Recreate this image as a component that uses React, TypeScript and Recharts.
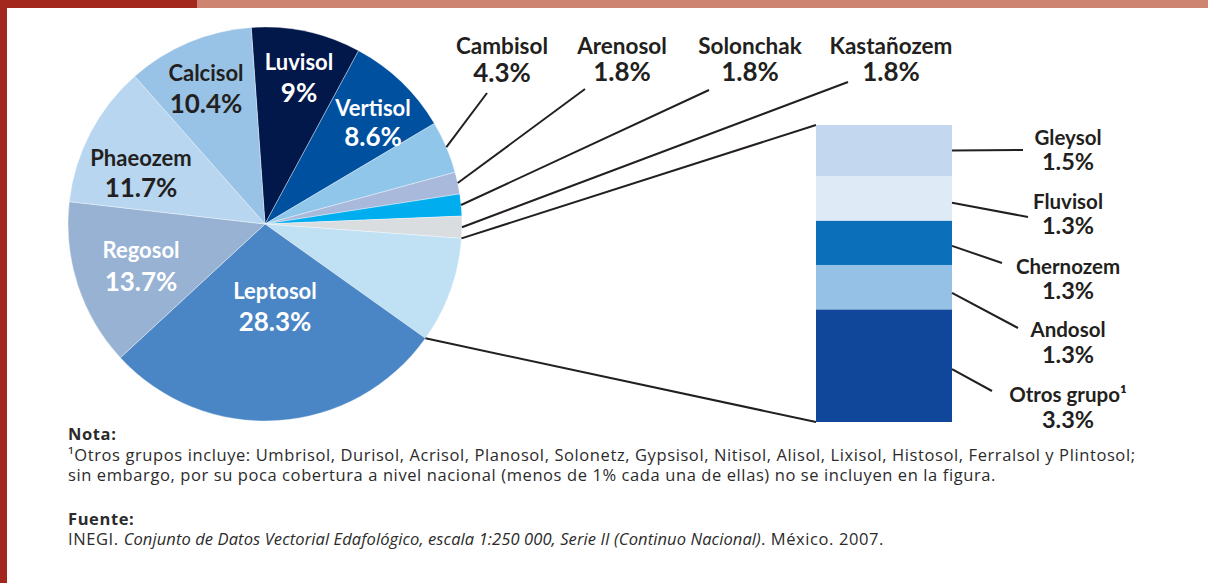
import { Bar, BarChart, Cell, Pie, PieChart, XAxis, YAxis } from 'recharts';

// bar-of-pie detail (bottom to top of the stack)
const barNames = ['Otros grupo¹', 'Andosol', 'Chernozem', 'Fluvisol', 'Gleysol'];
const barValues = [3.3, 1.3, 1.3, 1.3, 1.5];
const barColors = ['#10479b', '#96c1e6', '#0b70b9', '#deebf6', '#c3d7ee'];

const otrosTotal = Math.round(barValues.reduce((a, b) => a + b, 0) * 10) / 10;

// pie slices, clockwise from the top
const pieNames = ['Luvisol', 'Vertisol', 'Cambisol', 'Arenosol', 'Solonchak', 'Kastañozem', 'Otros', 'Leptosol', 'Regosol', 'Phaeozem', 'Calcisol'];
const pieValues = [9, 8.6, 4.3, 1.8, 1.8, 1.8, otrosTotal, 28.3, 13.7, 11.7, 10.4];
const pieColors = ['#02184a', '#0050a0', '#8fc6ea', '#a9b9dc', '#00adef', '#d9dde0', '#c0e0f4', '#4a86c5', '#98b2d3', '#b8d6f0', '#98c3e6'];

const pieData = pieNames.map((name, i) => ({ name, value: pieValues[i] }));
const barRow: Record<string, number | string> = { name: 'otros' };
barNames.forEach((n, i) => (barRow[n] = barValues[i]));
const barData = [barRow];

const W = 1208;
const H = 583;
const PIE_CX = 265;
const PIE_CY = 224;
const PIE_R = 197;
const BAR_LEFT = 816;
const BAR_RIGHT = 952;
const BAR_TOP = 125;
const BAR_BOTTOM = 422;

const INK = '#231f20';
const FONT = 'Lato, "Open Sans", sans-serif';
const NOTE_FONT = '"Open Sans", Lato, sans-serif';
const RAD = Math.PI / 180;
const NAME_SIZE = 22.5;
const PCT_SIZE = 26;

// label layout: x, name y, percent y, colour
const insideLabels: Record<string, [number, number, number, string]> = {
  Luvisol: [299, 61, 92, '#fff'],
  Vertisol: [373, 107, 136, '#fff'],
  Calcisol: [206, 72, 103, INK],
  Phaeozem: [141, 157, 187, INK],
  Regosol: [141, 249, 281, '#fff'],
  Leptosol: [275, 290, 321, '#fff'],
};
// x, name y, percent y, line end x, line end y
const outsideLabels: Record<string, [number, number, number, number, number]> = {
  Cambisol: [502, 45, 72, 487, 93],
  Arenosol: [622, 45, 71, 585, 89],
  Solonchak: [750, 45, 71, 709, 90],
  Kastañozem: [891, 45, 71, 848, 82],
};
// line start fraction down the segment, line end x, y, text x, name y, percent y
const rightLabels: Record<string, [number, number, number, number, number, number]> = {
  Gleysol: [0.5, 1023, 150, 1068, 137, 161],
  Fluvisol: [0.6, 1028, 217, 1068, 201, 225],
  Chernozem: [0.57, 1002, 263, 1068, 266, 290],
  Andosol: [0.63, 1018, 328, 1068, 329, 354],
  'Otros grupo¹': [0.53, 992, 391, 1068, 394, 419],
};

function polar(cx: number, cy: number, r: number, deg: number) {
  return { x: cx + Math.cos(-deg * RAD) * r, y: cy + Math.sin(-deg * RAD) * r };
}

function renderPieLabel(props: any) {
  const { cx, cy, outerRadius, midAngle, startAngle, endAngle, index } = props;
  const name = pieNames[index];
  const pct = `${pieValues[index]}%`;
  if (insideLabels[name]) {
    const [x, ny, py, col] = insideLabels[name];
    return (
      <g fontFamily={FONT} fontWeight={700} fill={col} textAnchor="middle">
        <text x={x} y={ny} dominantBaseline="central" fontSize={NAME_SIZE - 0.5} fill={col}>{name}</text>
        <text x={x} y={py} dominantBaseline="central" fontSize={PCT_SIZE} fill={col}>{pct}</text>
      </g>
    );
  }
  if (outsideLabels[name]) {
    const [x, ny, py, lx, ly] = outsideLabels[name];
    const p = polar(cx, cy, outerRadius, midAngle);
    return (
      <g fontFamily={FONT} fontWeight={700} textAnchor="middle">
        <line x1={p.x} y1={p.y} x2={lx} y2={ly} stroke={INK} strokeWidth={2} />
        <text x={x} y={ny} dominantBaseline="central" fontSize={NAME_SIZE} fill={INK}>{name}</text>
        <text x={x} y={py} dominantBaseline="central" fontSize={PCT_SIZE} fill={INK}>{pct}</text>
      </g>
    );
  }
  // the grouped slice: connectors to the detail bar
  const a = polar(cx, cy, outerRadius, startAngle);
  const b = polar(cx, cy, outerRadius, endAngle);
  return (
    <g>
      <line x1={a.x} y1={a.y} x2={BAR_LEFT} y2={BAR_TOP} stroke={INK} strokeWidth={2} />
      <line x1={b.x} y1={b.y} x2={BAR_LEFT} y2={BAR_BOTTOM} stroke={INK} strokeWidth={2} />
    </g>
  );
}

function BarSegment(props: any) {
  const { x, y, width, height, seg } = props;
  const name = barNames[seg];
  const [frac, lx, ly, tx, ny, py] = rightLabels[name];
  const sy = y + height * frac;
  return (
    <g>
      <rect x={x} y={y} width={width} height={height} fill={barColors[seg]} />
      <line x1={x + width} y1={sy} x2={lx} y2={ly} stroke={INK} strokeWidth={2} />
      <g fontFamily={FONT} fontWeight={700} textAnchor="middle" fill={INK}>
        <text x={tx} y={ny} dominantBaseline="central" fontSize={20.5}>{name}</text>
        <text x={tx} y={py} dominantBaseline="central" fontSize={23.5}>{`${barValues[seg]}%`}</text>
      </g>
    </g>
  );
}

const noteStyle: React.CSSProperties = {
  position: 'absolute',
  left: 68,
  fontFamily: NOTE_FONT,
  fontSize: 16.5,
  lineHeight: '20px',
  letterSpacing: 0.6,
  color: '#2b2b2b',
  whiteSpace: 'nowrap',
};

export default function App() {
  return (
    <div style={{ position: 'absolute', left: 0, top: 0, width: W, height: H, background: '#fff', overflow: 'hidden' }}>
      <div style={{ position: 'absolute', left: 0, top: 0, width: 197, height: 8, background: '#a3271d' }} />
      <div style={{ position: 'absolute', left: 197, top: 0, width: W - 197, height: 8, background: '#cd8471' }} />
      <div style={{ position: 'absolute', left: 0, top: 0, width: 7, height: H, background: '#a3271d' }} />

      <div style={{ position: 'absolute', left: 0, top: 0 }}>
        <PieChart width={W} height={H} margin={{ top: 0, right: 0, bottom: 0, left: 0 }}>
          <Pie
            data={pieData}
            dataKey="value"
            nameKey="name"
            cx={PIE_CX}
            cy={PIE_CY}
            outerRadius={PIE_R}
            startAngle={94}
            endAngle={94 - 360}
            stroke="#ffffff"
            strokeWidth={0.6}
            strokeOpacity={0.6}
            label={renderPieLabel}
            labelLine={false}
            isAnimationActive={false}
          >
            {pieData.map((d, i) => (
              <Cell key={d.name} fill={pieColors[i]} />
            ))}
          </Pie>
        </PieChart>
      </div>

      <div style={{ position: 'absolute', left: 0, top: 0 }}>
        <BarChart
          width={W}
          height={H}
          data={barData}
          margin={{ top: BAR_TOP, right: W - BAR_RIGHT, bottom: H - BAR_BOTTOM, left: BAR_LEFT }}
          barCategoryGap={0}
        >
          <XAxis dataKey="name" hide />
          <YAxis hide domain={[0, otrosTotal]} />
          {barNames.map((n, i) => (
            <Bar
              key={n}
              dataKey={n}
              stackId="a"
              fill={barColors[i]}
              isAnimationActive={false}
              shape={(p: any) => <BarSegment {...p} seg={i} />}
            />
          ))}
        </BarChart>
      </div>

      <div style={{ ...noteStyle, top: 424, fontWeight: 700 }}>Nota:</div>
      <div style={{ ...noteStyle, top: 445 }}>
        ¹Otros grupos incluye: Umbrisol, Durisol, Acrisol, Planosol, Solonetz, Gypsisol, Nitisol, Alisol, Lixisol, Histosol, Ferralsol y Plintosol;
      </div>
      <div style={{ ...noteStyle, top: 465 }}>
        sin embargo, por su poca cobertura a nivel nacional (menos de 1% cada una de ellas) no se incluyen en la figura.
      </div>
      <div style={{ ...noteStyle, top: 509, fontWeight: 700 }}>Fuente:</div>
      <div style={{ ...noteStyle, top: 529 }}>
        INEGI. <i style={{ letterSpacing: 0.1 }}>Conjunto de Datos Vectorial Edafológico, escala 1:250 000, Serie II (Continuo Nacional)</i>. México. 2007.
      </div>
    </div>
  );
}
